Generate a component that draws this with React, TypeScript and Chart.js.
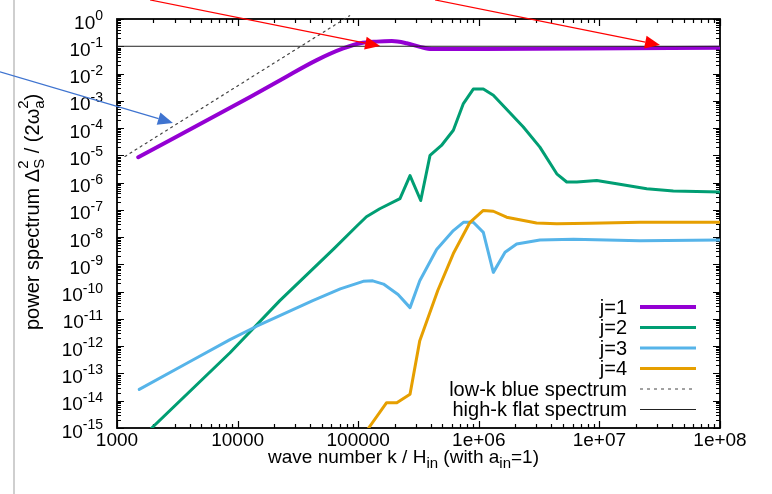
import { useEffect, useRef } from "react";
import { Chart, registerables } from "chart.js";

Chart.register(...registerables);

// ---------- data ----------
const kJ1 = [1.5e3, 1.27e4, 2.39e4, 4.53e4, 7.5e4, 1.04e5, 1.42e5, 1.9e5, 2.52e5, 3.25e5, 4.07e5, 1.08e6, 7.3e6, 1e8];
const pJ1 = [8.5e-6, 1.38e-3, 6.6e-3, 3.1e-2, 8.3e-2, 0.129, 0.148, 0.155, 0.129, 0.095, 0.079, 0.08, 0.083, 0.089];

const kJ2 = [1.94e3, 8.65e3, 2.24e4, 6.3e4, 9.7e4, 1.17e5, 1.51e5, 2.22e5, 2.69e5, 3.3e5, 3.94e5, 4.9e5, 6.15e5, 7.45e5, 9.0e5, 1.09e6, 1.32e6, 2.34e6, 3.21e6, 4.43e6, 5.36e6, 6.5e6, 9.5e6, 1.39e7, 2.47e7, 4.1e7, 1e8];
const pJ2 = [1e-15, 5.75e-13, 4.7e-11, 3.8e-9, 2.5e-8, 5.6e-8, 1.1e-7, 2.6e-7, 1.8e-6, 2.2e-7, 1e-5, 2.3e-5, 8.3e-5, 7.9e-4, 2.7e-3, 2.7e-3, 1.6e-3, 1.1e-4, 2.0e-5, 2.1e-6, 1.05e-6, 1.05e-6, 1.2e-6, 9.1e-7, 6.0e-7, 4.9e-7, 4.5e-7];

const kJ3 = [1.53e3, 4.0e3, 8.65e3, 1.44e4, 2.24e4, 4.2e4, 7.1e4, 1.1e5, 1.32e5, 1.62e5, 2.14e5, 2.69e5, 3.24e5, 4.47e5, 6.15e5, 7.45e5, 9.0e5, 1.09e6, 1.32e6, 1.65e6, 2.06e6, 3.21e6, 6.1e6, 2.17e7, 1e8];
const pJ3 = [2.6e-14, 2.7e-13, 1.74e-12, 5.4e-12, 1.32e-11, 4.7e-11, 1.26e-10, 2.4e-10, 2.5e-10, 1.9e-10, 7.9e-11, 2.6e-11, 2.5e-10, 3.5e-9, 1.74e-8, 3.5e-8, 3.5e-8, 1.5e-8, 5.1e-10, 2.8e-9, 5.6e-9, 7.9e-9, 8.3e-9, 7.4e-9, 7.9e-9];

const kJ4 = [1.22e5, 1.72e5, 2.09e5, 2.69e5, 3.24e5, 4.57e5, 6.15e5, 8.45e5, 1.09e6, 1.32e6, 1.7e6, 3.01e6, 4.43e6, 8.36e6, 2.17e7, 1e8];
const pJ4 = [1e-15, 8.5e-15, 8.5e-15, 1.74e-14, 1.6e-12, 1.1e-10, 2.5e-9, 3.5e-8, 9.5e-8, 8.9e-8, 5.4e-8, 3.3e-8, 3.1e-8, 3.2e-8, 3.5e-8, 3.5e-8];

const kLowK = [1.164e3, 8.5e4];
const pLowK = [9.1e-6, 1.32];

const kHighK = [1e3, 1e8];
const pHighK = [0.1, 0.1];

const seriesLabels = ["j=1", "j=2", "j=3", "j=4", "low-k blue spectrum", "high-k flat spectrum"];
const seriesColors = ["#9400D3", "#009E73", "#56B4E9", "#E69F00", "#444444", "#222222"];

const xTickValues = [1e3, 1e4, 1e5, 1e6, 1e7, 1e8];
const xTickLabels = ["1000", "10000", "100000", "1e+06", "1e+07", "1e+08"];
const yTickExponents = [0, -1, -2, -3, -4, -5, -6, -7, -8, -9, -10, -11, -12, -13, -14, -15];

// annotation arrows (data coordinates: [kStart, pStart, kEnd, pEnd])
const arrowsRed = [
  [1.88e3, 5.0, 1.52e5, 0.102],
  [4.34e5, 5.0, 3.18e7, 0.111],
];
const arrowsBlue = [[107, 0.0115, 2.91e3, 1.55e-4]];

const FONT = '"Liberation Sans", Arial, Helvetica, sans-serif';

type Seg = { t?: string; sub?: string; sup?: string; s: number; dy?: number };

function drawRich(ctx: CanvasRenderingContext2D, segs: Seg[], x: number, y: number) {
  let cx = x;
  for (const g of segs) {
    if (g.t !== undefined) {
      ctx.font = `${g.s}px ${FONT}`;
      ctx.fillText(g.t, cx, y + (g.dy || 0));
      cx += ctx.measureText(g.t).width;
    } else {
      ctx.font = `${g.s}px ${FONT}`;
      let w = 0;
      if (g.sub) {
        ctx.fillText(g.sub, cx, y + 5);
        w = Math.max(w, ctx.measureText(g.sub).width);
      }
      if (g.sup) {
        ctx.fillText(g.sup, cx, y - 11);
        w = Math.max(w, ctx.measureText(g.sup).width);
      }
      cx += w;
    }
  }
}

function drawArrow(ctx: CanvasRenderingContext2D, x0: number, y0: number, x1: number, y1: number, color: string) {
  const ang = Math.atan2(y1 - y0, x1 - x0);
  const hl = 15;
  const hw = 6.5;
  const bx = x1 - hl * Math.cos(ang);
  const by = y1 - hl * Math.sin(ang);
  ctx.strokeStyle = color;
  ctx.fillStyle = color;
  ctx.lineWidth = 1.2;
  ctx.beginPath();
  ctx.moveTo(x0, y0);
  ctx.lineTo(bx, by);
  ctx.stroke();
  ctx.beginPath();
  ctx.moveTo(x1, y1);
  ctx.lineTo(bx - hw * Math.sin(ang), by + hw * Math.cos(ang));
  ctx.lineTo(bx + hw * Math.sin(ang), by - hw * Math.cos(ang));
  ctx.closePath();
  ctx.fill();
}

const decorPlugin = {
  id: "decor",
  beforeDatasetsDraw(chart: any) {
    const { ctx, chartArea: a, scales } = chart;
    const x = scales.x;
    const y = scales.y;
    ctx.save();
    ctx.strokeStyle = "#000";
    ctx.lineWidth = 1.2;
    ctx.beginPath();
    // x ticks (bottom and top)
    for (let e = 3; e <= 8; e++) {
      for (let m = 1; m <= 9; m++) {
        const v = m * Math.pow(10, e);
        if (v > 1e8 * 1.0001) break;
        const px = Math.round(x.getPixelForValue(v)) + 0.5;
        const len = m === 1 ? 7 : 4;
        ctx.moveTo(px, a.bottom);
        ctx.lineTo(px, a.bottom - len);
        ctx.moveTo(px, a.top);
        ctx.lineTo(px, a.top + len);
      }
    }
    // y ticks (left and right)
    for (let e = -15; e <= 0; e++) {
      for (let m = 1; m <= 9; m++) {
        const v = m * Math.pow(10, e);
        if (v > 1.0001) break;
        const py = Math.round(y.getPixelForValue(v)) + 0.5;
        const len = m === 1 ? 7 : 4;
        ctx.moveTo(a.left, py);
        ctx.lineTo(a.left + len, py);
        ctx.moveTo(a.right, py);
        ctx.lineTo(a.right - len, py);
      }
    }
    ctx.stroke();
    // frame
    ctx.lineWidth = 1.8;
    ctx.strokeRect(a.left, a.top, a.right - a.left, a.bottom - a.top);

    ctx.fillStyle = "#000";
    ctx.textBaseline = "alphabetic";
    // x tick labels
    ctx.font = `19px ${FONT}`;
    ctx.textAlign = "center";
    xTickValues.forEach((v, i) => {
      ctx.fillText(xTickLabels[i], x.getPixelForValue(v), a.bottom + 18);
    });
    // y tick labels 10^n
    ctx.textAlign = "left";
    yTickExponents.forEach((e) => {
      const py = y.getPixelForValue(Math.pow(10, e));
      ctx.font = `19px ${FONT}`;
      const wb = ctx.measureText("10").width;
      ctx.font = `14px ${FONT}`;
      const es = String(e);
      const we = ctx.measureText(es).width;
      const right = a.left - 14;
      ctx.font = `19px ${FONT}`;
      ctx.fillText("10", right - we - wb, py + 9.5);
      ctx.font = `14px ${FONT}`;
      ctx.fillText(es, right - we, py + 1);
    });
    // x title
    drawRich(
      ctx,
      [
        { t: "wave number k / H", s: 19 },
        { t: "in", s: 15, dy: 5 },
        { t: " (with a", s: 19 },
        { t: "in", s: 15, dy: 5 },
        { t: "=1)", s: 19 },
      ],
      268,
      a.bottom + 35
    );
    // y title (rotated)
    ctx.save();
    ctx.translate(39, 330);
    ctx.rotate(-Math.PI / 2);
    drawRich(
      ctx,
      [
        { t: "power spectrum \u0394", s: 20 },
        { sub: "S", sup: "2", s: 15 },
        { t: " / (2\u03C9", s: 20 },
        { sub: "a", sup: "2", s: 15 },
        { t: ")", s: 20 },
      ],
      0,
      0
    );
    ctx.restore();
    ctx.restore();
  },
  afterDatasetsDraw(chart: any) {
    const { ctx, chartArea: a, scales } = chart;
    const x = scales.x;
    const y = scales.y;
    ctx.save();
    // legend
    ctx.font = `20px ${FONT}`;
    ctx.textAlign = "right";
    ctx.textBaseline = "middle";
    seriesLabels.forEach((lab, i) => {
      const ry = a.bottom - 121 + i * 20.5;
      ctx.fillStyle = "#000";
      ctx.fillText(lab, a.right - 93, ry + 1);
      ctx.beginPath();
      ctx.strokeStyle = seriesColors[i];
      if (i < 4) {
        ctx.lineWidth = i === 0 ? 4 : 3;
        ctx.setLineDash([]);
      } else if (i === 4) {
        ctx.lineWidth = 1;
        ctx.setLineDash([3, 4]);
      } else {
        ctx.lineWidth = 1;
        ctx.setLineDash([]);
      }
      ctx.moveTo(a.right - 80, ry);
      ctx.lineTo(a.right - 24, ry);
      ctx.stroke();
    });
    ctx.setLineDash([]);
    // annotation arrows
    arrowsRed.forEach(([k0, p0, k1, p1]) => {
      drawArrow(ctx, x.getPixelForValue(k0), y.getPixelForValue(p0), x.getPixelForValue(k1), y.getPixelForValue(p1), "#FF0000");
    });
    arrowsBlue.forEach(([k0, p0, k1, p1]) => {
      drawArrow(ctx, x.getPixelForValue(k0), y.getPixelForValue(p0), x.getPixelForValue(k1), y.getPixelForValue(p1), "#3F74D0");
    });
    ctx.restore();
  },
};

function pts(ks: number[], ps: number[]) {
  return ks.map((k, i) => ({ x: k, y: ps[i] }));
}

export default function App() {
  const ref = useRef<HTMLCanvasElement | null>(null);
  useEffect(() => {
    if (!ref.current) return;
    const chart = new Chart(ref.current, {
      type: "line",
      data: {
        datasets: [
          { label: seriesLabels[5], data: pts(kHighK, pHighK), borderColor: seriesColors[5], borderWidth: 1, pointRadius: 0 },
          { label: seriesLabels[4], data: pts(kLowK, pLowK), borderColor: seriesColors[4], borderWidth: 1.2, borderDash: [2, 4], pointRadius: 0, clip: false as any },
          { label: seriesLabels[3], data: pts(kJ4, pJ4), borderColor: seriesColors[3], borderWidth: 3, pointRadius: 0 },
          { label: seriesLabels[2], data: pts(kJ3, pJ3), borderColor: seriesColors[2], borderWidth: 3, pointRadius: 0 },
          { label: seriesLabels[1], data: pts(kJ2, pJ2), borderColor: seriesColors[1], borderWidth: 3, pointRadius: 0 },
          { label: seriesLabels[0], data: pts(kJ1, pJ1), borderColor: seriesColors[0], borderWidth: 4, pointRadius: 0, cubicInterpolationMode: "monotone" },
        ],
      },
      options: {
        animation: false,
        responsive: true,
        maintainAspectRatio: false,
        layout: { padding: { left: 117, top: 19, right: 52, bottom: 66 } },
        plugins: { legend: { display: false }, tooltip: { enabled: false } },
        elements: { line: { tension: 0, borderJoinStyle: "round", borderCapStyle: "round" } },
        scales: {
          x: { type: "logarithmic", min: 1e3, max: 1e8, display: false },
          y: { type: "logarithmic", min: 1e-15, max: 1, display: false },
        },
      },
      plugins: [decorPlugin],
    });
    return () => chart.destroy();
  }, []);
  return (
    <div style={{ position: "absolute", left: 0, top: 0, width: 772, height: 494, background: "#fff" }}>
      <div style={{ position: "absolute", left: 13, top: 0, width: 2, height: 494, background: "#cfcfcf" }} />
      <canvas ref={ref} style={{ position: "absolute", left: 0, top: 0, width: 772, height: 494 }} />
    </div>
  );
}
